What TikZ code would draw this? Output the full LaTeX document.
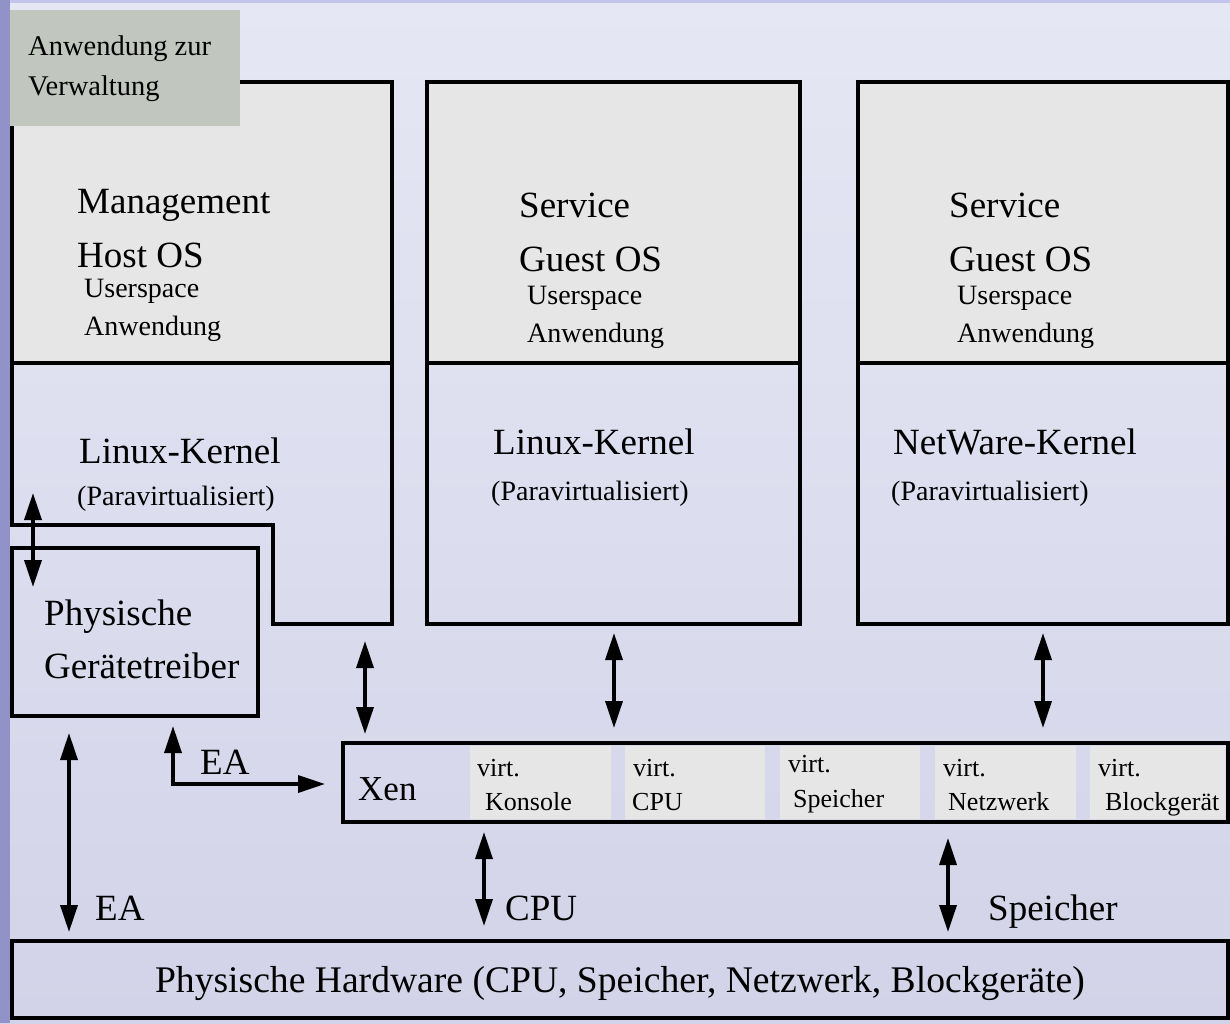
\documentclass[tikz,border=0pt]{standalone}
\usepackage{fontspec}
\setmainfont{Liberation Serif}
\usetikzlibrary{arrows.meta,calc}
\definecolor{bgtop}{HTML}{E6E7F4}
\definecolor{bgbot}{HTML}{D2D3E8}
\definecolor{stripcol}{HTML}{9192C8}
\definecolor{topband}{HTML}{C3C6EA}
\definecolor{usergray}{HTML}{E6E6E6}
\definecolor{admgreen}{HTML}{C1C7BE}
\tikzset{
  boxline/.style={draw=black, line width=4pt, inner sep=0pt},
  ubox/.style={boxline, fill=usergray},
  kbox/.style={boxline},
  cellbox/.style={fill=usergray, inner sep=0pt},
  bigtxt/.style={font=\fontsize{37}{44}\selectfont, inner sep=0pt, anchor=base west},
  smalltxt/.style={font=\fontsize{28}{34}\selectfont, inner sep=0pt, anchor=base west},
  celltxt/.style={font=\fontsize{26}{31}\selectfont, inner sep=0pt, anchor=base west},
  dbl/.style={line width=3.5pt, {Triangle[length=27pt,width=17pt]}-{Triangle[length=27pt,width=17pt]}},
}
\begin{document}
\begin{tikzpicture}[x=1pt,y=-1pt]
\useasboundingbox (0,0) rectangle (1230,1023);
\shade[top color=bgtop, bottom color=bgbot] (0,0) rectangle (1230,1023);
\fill[stripcol] (0,0) rectangle (10,1023);
\fill[topband] (10,0) rectangle (1230,3);

% Management host box
\node[ubox, minimum width=380pt, minimum height=281pt] (mgmtU) at (202,222.5) {};
\draw[kbox] (12,363) -- (392,363) -- (392,624) -- (273,624) -- (273,525) -- (12,525) -- cycle;
\coordinate (mgmtK) at (332,624);
% Driver box
\node[kbox, minimum width=246pt, minimum height=168pt] (drv) at (135,632) {};
% Service boxes
\node[ubox, minimum width=373pt, minimum height=281pt] (svc1U) at (613.5,222.5) {};
\node[kbox, minimum width=373pt, minimum height=261pt] (svc1K) at (613.5,493.5) {};
\node[ubox, minimum width=370pt, minimum height=281pt] (svc2U) at (1043,222.5) {};
\node[kbox, minimum width=370pt, minimum height=261pt] (svc2K) at (1043,493.5) {};
% Admin app
\node[fill=admgreen, inner sep=0pt, minimum width=230pt, minimum height=116pt] (adm) at (125,68) {};

% Xen bar
\node[cellbox, minimum width=141pt, minimum height=73pt] (c1) at (540.5,782.5) {};
\node[cellbox, minimum width=140pt, minimum height=73pt] (c2) at (695,782.5) {};
\node[cellbox, minimum width=140pt, minimum height=73pt] (c3) at (850,782.5) {};
\node[cellbox, minimum width=141pt, minimum height=73pt] (c4) at (1005.5,782.5) {};
\node[cellbox, minimum width=135pt, minimum height=73pt] (c5) at (1157.5,782.5) {};
\node[boxline, minimum width=885pt, minimum height=79pt] (xen) at (785.5,782.5) {};
% Hardware
\node[boxline, minimum width=1216pt, minimum height=77pt] (hw) at (620,979.5) {};

% Texts
\node[smalltxt, font=\fontsize{28.5}{34}\selectfont] (t1) at (28,55) {Anwendung zur};
\node[smalltxt, font=\fontsize{28.5}{34}\selectfont] (t2) at (28,95) {Verwaltung};
\node[bigtxt] (t3) at (77,213) {Management};
\node[bigtxt] (t4) at (77,267) {Host OS};
\node[smalltxt] (t5) at (84,297) {Userspace};
\node[smalltxt] (t6) at (84,335) {Anwendung};
\node[bigtxt] (t7) at (79,463) {Linux-Kernel};
\node[smalltxt] (t8) at (77,505) {(Paravirtualisiert)};
\node[bigtxt] (t9) at (44,625) {Physische};
\node[bigtxt] (t10) at (44,678) {Gerätetreiber};

\node[bigtxt] (s1) at (519,217) {Service};
\node[bigtxt] (s2) at (519,271) {Guest OS};
\node[smalltxt] (s3) at (527,304) {Userspace};
\node[smalltxt] (s4) at (527,342) {Anwendung};
\node[bigtxt] (s5) at (493,454) {Linux-Kernel};
\node[smalltxt] (s6) at (491,500) {(Paravirtualisiert)};

\node[bigtxt] (n1) at (949,217) {Service};
\node[bigtxt] (n2) at (949,271) {Guest OS};
\node[smalltxt] (n3) at (957,304) {Userspace};
\node[smalltxt] (n4) at (957,342) {Anwendung};
\node[bigtxt] (n5) at (893,454) {NetWare-Kernel};
\node[smalltxt] (n6) at (891,500) {(Paravirtualisiert)};

\node[bigtxt, font=\fontsize{35}{42}\selectfont] (x0) at (358,800) {Xen};
\node[celltxt] (v1) at (477,776) {virt.};
\node[celltxt] (w1) at (485,810) {Konsole};
\node[celltxt] (v2) at (633,776) {virt.};
\node[celltxt] (w2) at (632,810) {CPU};
\node[celltxt] (v3) at (788,772) {virt.};
\node[celltxt] (w3) at (793,807) {Speicher};
\node[celltxt] (v4) at (943,776) {virt.};
\node[celltxt] (w4) at (948,810) {Netzwerk};
\node[celltxt] (v5) at (1098,776) {virt.};
\node[celltxt] (w5) at (1105,810) {Blockgerät};

\node[bigtxt] (l1) at (200,774) {EA};
\node[bigtxt] (l2) at (95,920) {EA};
\node[bigtxt] (l3) at (505,920) {CPU};
\node[bigtxt] (l4) at (988,920) {Speicher};
\node[bigtxt, anchor=base, font=\fontsize{37.6}{44}\selectfont] (hwt) at (620,992) {Physische Hardware (CPU, Speicher, Netzwerk, Blockgeräte)};

% Arrow endpoints
\coordinate (a1s) at (365,641); \coordinate (a1e) at (365,734);
\coordinate (a2s) at (614,633); \coordinate (a2e) at (614,728);
\coordinate (a3s) at (1043,633); \coordinate (a3e) at (1043,728);
\coordinate (a4s) at (33,493); \coordinate (a4e) at (33,587);
\coordinate (a5s) at (69,733); \coordinate (a5e) at (69,932);
\coordinate (a6s) at (173,726); \coordinate (a6e) at (325,784);
\coordinate (a7s) at (484,832); \coordinate (a7e) at (484,926);
\coordinate (a8s) at (948,838); \coordinate (a8e) at (948,932);

\draw[dbl] (a1s) -- (a1e);
\draw[dbl] (a2s) -- (a2e);
\draw[dbl] (a3s) -- (a3e);
\draw[dbl] (a4s) -- (a4e);
\draw[dbl] (a5s) -- (a5e);
\draw[dbl] (a6s) |- (a6e);
\draw[dbl] (a7s) -- (a7e);
\draw[dbl] (a8s) -- (a8e);
\end{tikzpicture}
\end{document}
